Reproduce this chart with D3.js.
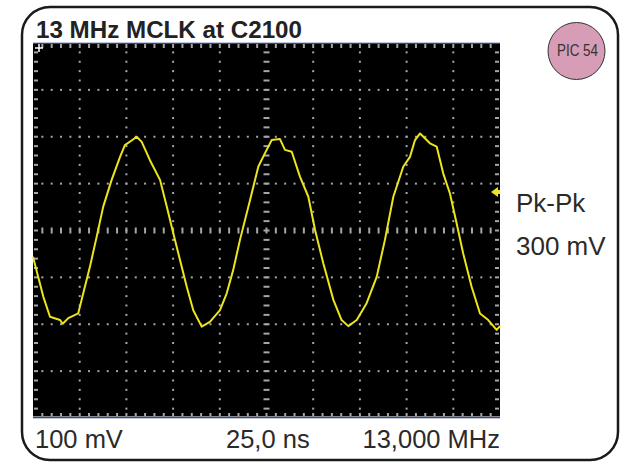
<!DOCTYPE html>
<html>
<head>
<meta charset="utf-8">
<script src="https://cdn.jsdelivr.net/npm/d3@7"></script>
<style>
  body { margin: 0; background: #fff; }
  svg text { font-family: "Liberation Sans", Arial, sans-serif; }
</style>
</head>
<body>
<svg id="chart" width="621" height="462"></svg>
<script>
// waveform (time in ns, level in mV)
const timeNs = [0, 2.8, 5.5, 9.1, 14.5, 15.9, 18.9, 24.2, 26.9, 30.5, 34.1, 37.6, 42.1, 46.6, 49.2,
  52.8, 55.5, 58.2, 62.6, 68, 71.6, 75.1, 78.7, 82.3, 85.8, 90.3, 94.7, 100.1, 103.7, 107.2,
  110.8, 116.2, 120.6, 124.2, 127.8, 132.2, 134.9, 138.5, 142.9, 147.4, 151, 155.4, 160.8,
  165.2, 168.8, 173.3, 178.6, 184, 188.4, 192.9, 198.2, 201.8, 204.5, 207.2, 212.5, 216.1,
  219.6, 223.2, 226.8, 230.3, 234.8, 239.3, 243.7, 248.2, 250];
const levelMv = [-56, -99, -141, -184, -191, -199, -187, -177, -134, -77, -13, 51, 108, 157, 182,
  192, 200, 189, 150, 108, 51, -6, -63, -120, -170, -205, -195, -170, -134, -84,
  -20, 65, 136, 165, 193, 195, 172, 168, 115, 72, 1, -70, -148,
  -191, -204, -191, -155, -99, -20, 72, 136, 157, 193, 207, 186, 179,
  122, 79, 15, -49, -120, -177, -191, -212, -204];

const title = "13 MHz MCLK at C2100";
const bottomLabels = ["100 mV", "25,0 ns", "13,000 MHz"];
const sideLabels = ["Pk-Pk", "300 mV"];
const badge = "PIC 54";
const triggerMv = 82;

const timeDiv = 25, voltDiv = 100;   // 25 ns/div, 100 mV/div
const svg = d3.select("#chart");

// outer rounded frame
svg.append("rect")
    .attr("x", 22).attr("y", 7)
    .attr("width", 596).attr("height", 453)
    .attr("rx", 28).attr("ry", 28)
    .attr("fill", "none")
    .attr("stroke", "#1a1a1a")
    .attr("stroke-width", 2.5);

svg.append("text")
    .attr("x", 36).attr("y", 38)
    .style("font-size", "23px")
    .style("font-weight", "bold")
    .attr("fill", "#222")
    .attr("textLength", 266)
    .attr("lengthAdjust", "spacingAndGlyphs")
    .text(title);

// scope screen
const x = d3.scaleLinear().domain([0, 10 * timeDiv]).range([33, 500]);
const y = d3.scaleLinear().domain([-4 * voltDiv, 4 * voltDiv]).range([418, 43]);

const screen = svg.append("g");
screen.append("rect")
    .attr("x", x(0)).attr("y", y(400))
    .attr("width", x(250) - x(0)).attr("height", y(-400) - y(400))
    .attr("fill", "#000");

const minorT = d3.range(0, 250.01, timeDiv / 5);
const minorV = d3.range(-400, 400.01, voltDiv / 5);
const dotColor = "#a6a6a6";

// dotted vertical grid lines
d3.range(1, 10).filter(i => i !== 5).forEach(i => {
  screen.selectAll(null).data(minorV.slice(1, -1)).enter().append("rect")
      .attr("x", x(i * timeDiv) - 1).attr("y", d => y(d) - 1)
      .attr("width", 2).attr("height", 2)
      .attr("fill", dotColor);
});
// dotted horizontal grid lines
d3.range(-3, 4).filter(i => i !== 0).forEach(i => {
  screen.selectAll(null).data(minorT.slice(1, -1)).enter().append("rect")
      .attr("x", d => x(d) - 1).attr("y", y(i * voltDiv) - 1)
      .attr("width", 2).attr("height", 2)
      .attr("fill", dotColor);
});

// centre axes with cross ticks
screen.selectAll(null).data(minorT.slice(1, -1)).enter().append("rect")
    .attr("x", d => x(d) - 1).attr("y", y(0) - 3)
    .attr("width", 2).attr("height", 6)
    .attr("fill", dotColor);
screen.selectAll(null).data(minorV.slice(1, -1)).enter().append("rect")
    .attr("x", x(125) - 3).attr("y", d => y(d) - 1)
    .attr("width", 6).attr("height", 2)
    .attr("fill", dotColor);

// edge ticks
screen.selectAll(null).data(minorT.slice(1, -1)).enter().append("rect")
    .attr("x", d => x(d) - 1).attr("y", y(400) + 1)
    .attr("width", 2).attr("height", 4).attr("fill", dotColor);
screen.selectAll(null).data(minorT.slice(1, -1)).enter().append("rect")
    .attr("x", d => x(d) - 1).attr("y", y(-400) - 5)
    .attr("width", 2).attr("height", 4).attr("fill", dotColor);
screen.selectAll(null).data(minorV.slice(1, -1)).enter().append("rect")
    .attr("x", x(0) + 1).attr("y", d => y(d) - 1)
    .attr("width", 4).attr("height", 2).attr("fill", dotColor);
screen.selectAll(null).data(minorV.slice(1, -1)).enter().append("rect")
    .attr("x", x(250) - 5).attr("y", d => y(d) - 1)
    .attr("width", 4).attr("height", 2).attr("fill", dotColor);
screen.append("line")
    .attr("x1", x(0)).attr("x2", x(250))
    .attr("y1", y(-400) - 1.5).attr("y2", y(-400) - 1.5)
    .attr("stroke", "#8a8a8a").attr("stroke-width", 1);

// blue rims top and bottom
[400, -400].forEach(v => {
  screen.append("line")
      .attr("x1", x(0)).attr("x2", x(250))
      .attr("y1", y(v)).attr("y2", y(v))
      .attr("stroke", "#7f90c8").attr("stroke-width", 1.2);
});

// trigger position mark
screen.append("path")
    .attr("d", "M" + (x(0) + 2) + "," + (y(400) + 5) + "h8M" + (x(0) + 6) + "," + (y(400) + 1) + "v8")
    .attr("stroke", "#fff").attr("stroke-width", 1.5);

// waveform
const pts = timeNs.map((t, i) => [t, levelMv[i]]);
screen.append("path")
    .datum(pts)
    .attr("fill", "none")
    .attr("stroke", "#ece41c")
    .attr("stroke-width", 2)
    .attr("stroke-linejoin", "round")
    .attr("d", d3.line().x(d => x(d[0])).y(d => y(d[1])));

// trigger level arrow
const ty = y(triggerMv);
screen.append("path")
    .attr("d", "M" + (x(250) - 9) + "," + ty + "l7,-5v3h2v4h-2v3z")
    .attr("fill", "#ece41c");

// bottom readouts
const bottomX = [35, 226, 500];
const bottomAnchor = ["start", "start", "end"];
svg.selectAll(".readout")
    .data(bottomLabels)
  .enter().append("text")
    .attr("class", "readout")
    .attr("x", (d, i) => bottomX[i])
    .attr("y", 448)
    .attr("text-anchor", (d, i) => bottomAnchor[i])
    .style("font-size", "25.5px")
    .attr("fill", "#2a2a2a")
    .text(d => d);

// side readouts
svg.selectAll(".side")
    .data(sideLabels)
  .enter().append("text")
    .attr("class", "side")
    .attr("x", 516)
    .attr("y", (d, i) => 212 + i * 43)
    .style("font-size", "26px")
    .attr("fill", "#2a2a2a")
    .text(d => d);

// picture badge
svg.append("circle")
    .attr("cx", 576.5).attr("cy", 51)
    .attr("r", 28.5)
    .attr("fill", "#d79db6")
    .attr("stroke", "#333")
    .attr("stroke-width", 1);
svg.append("text")
    .attr("x", 577.5).attr("y", 56)
    .attr("text-anchor", "middle")
    .style("font-size", "16px")
    .attr("fill", "#333")
    .attr("textLength", 41)
    .attr("lengthAdjust", "spacingAndGlyphs")
    .text(badge);
</script>
</body>
</html>
